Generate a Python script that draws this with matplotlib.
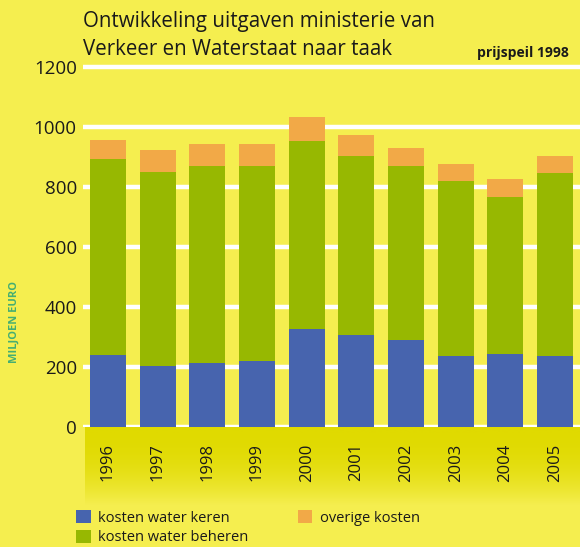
import numpy as np
import matplotlib
matplotlib.use("Agg")
import matplotlib.pyplot as plt
from matplotlib.colors import LinearSegmentedColormap

# uitgaven in miljoen euro (prijspeil 1998)
years = ["1996", "1997", "1998", "1999", "2000", "2001", "2002", "2003", "2004", "2005"]
water_keren = [241, 204, 214, 221, 328, 308, 291, 238, 244, 238]
water_beheren = [653, 647, 657, 650, 626, 596, 580, 583, 524, 610]
overige_kosten = [64, 73, 73, 73, 80, 70, 60, 57, 60, 56]
y_ticks = [0, 200, 400, 600, 800, 1000, 1200]

BG = "#F5EE4F"
BAND = "#E0DA00"
BLUE = "#4764AE"
GREEN = "#97B801"
ORANGE = "#F2A947"
TXT = "#1a1a1a"

plt.rcParams["font.family"] = ["Open Sans", "DejaVu Sans"]

W, H = 580, 547
fig = plt.figure(figsize=(W / 100, H / 100), dpi=100, facecolor=BG)

# darker band under the x axis, fading out
band = fig.add_axes([85 / W, (H - 505) / H, (W - 85) / W, 78 / H], zorder=0)
grad = np.linspace(0, 1, 100) ** 2.2
cmap = LinearSegmentedColormap.from_list("band", [BAND, BG])
band.imshow(grad[:, None], aspect="auto", cmap=cmap, extent=[0, 1, 0, 1])
band.set_axis_off()

ax = fig.add_axes([83 / W, (H - 427.3) / H, (W - 83) / W, 363 / H], zorder=1)
ax.set_facecolor("none")

x = np.arange(len(years))
bw = 0.725
ax.bar(x, water_keren, bw, color=BLUE, label="kosten water keren", zorder=3)
ax.bar(x, water_beheren, bw, bottom=water_keren, color=GREEN,
       label="kosten water beheren", zorder=3)
tops = np.array(water_keren) + np.array(water_beheren)
ax.bar(x, overige_kosten, bw, bottom=tops, color=ORANGE,
       label="overige kosten", zorder=3)

ax.set_xlim(-0.5, 9.5)
ax.set_ylim(0, 1210)
ax.set_yticks(y_ticks)
ax.set_yticklabels([str(t) for t in y_ticks], fontsize=13.5, color=TXT)
ax.set_xticks(x)
ax.set_xticklabels(years, rotation=90, fontsize=12, color=TXT)
ax.tick_params(axis="y", length=0, pad=4.5)
ax.tick_params(axis="x", length=0, pad=11.5)
ax.grid(axis="y", color="white", linewidth=3.2, zorder=1)
ax.set_axisbelow(True)
for s in ax.spines.values():
    s.set_visible(False)

fig.text(14 / W, 1 - 322 / H, "MILJOEN EURO", rotation=90,
         ha="center", va="center", fontsize=8, fontweight="bold",
         color="#45AE72")

fig.text(83 / W, 1 - 27 / H, "Ontwikkeling uitgaven ministerie van",
         fontsize=14.8, color=TXT, va="baseline")
fig.text(83 / W, 1 - 55 / H, "Verkeer en Waterstaat naar taak",
         fontsize=14.8, color=TXT, va="baseline")
fig.text(569 / W, 1 - 57 / H, "prijspeil 1998", ha="right", va="baseline",
         fontsize=10, fontweight="bold", color=TXT)

handles, labels = ax.get_legend_handles_labels()
fig.legend(handles, labels, loc="upper left", bbox_to_anchor=(76 / W, 1 - 510 / H),
           ncol=2, frameon=False, fontsize=10.5, handlelength=1.0, handleheight=1.0,
           handletextpad=0.5, labelspacing=0.3, columnspacing=3.4,
           borderpad=0, borderaxespad=0, labelcolor=TXT)

fig.savefig("out.png", dpi=100, facecolor=BG)
